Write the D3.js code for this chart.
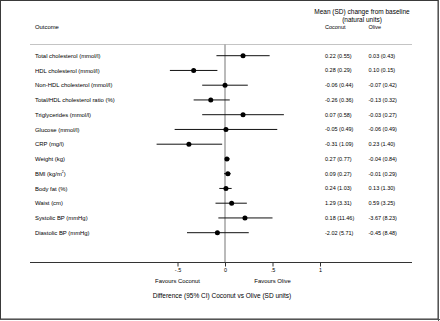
<!DOCTYPE html>
<html>
<head>
<meta charset="utf-8">
<script src="https://cdn.jsdelivr.net/npm/d3@7"></script>
<style>
  html, body { margin: 0; padding: 0; background: #fff; }
  svg { display: block; font-family: "Liberation Sans", Arial, sans-serif; }
</style>
</head>
<body>
<svg id="chart" width="440" height="321"></svg>
<script>
// Outcomes, one row each
const outcomes = [
  "Total cholesterol (mmol/l)",
  "HDL cholesterol (mmol/l)",
  "Non-HDL cholesterol (mmol/l)",
  "Total/HDL cholesterol ratio (%)",
  "Triglycerides (mmol/l)",
  "Glucose (mmol/l)",
  "CRP (mg/l)",
  "Weight (kg)",
  "BMI (kg/m2)",
  "Body fat (%)",
  "Waist (cm)",
  "Systolic BP (mmHg)",
  "Diastolic BP (mmHg)"
];

// Standardised difference, Coconut vs Olive (SD units), with 95% CI
const diff  = [0.19, -0.33, 0.00, -0.15, 0.19, 0.01, -0.38, 0.02, 0.03, 0.01, 0.07, 0.21, -0.08];
const lower = [-0.09, -0.58, -0.24, -0.33, -0.24, -0.53, -0.72, 0.00, -0.01, -0.06, -0.10, -0.07, -0.40];
const upper = [0.47, -0.08, 0.24, 0.05, 0.62, 0.55, -0.03, 0.05, 0.06, 0.07, 0.23, 0.50, 0.25];

// Mean (SD) change from baseline, natural units
const coconutMean = ["0.22", "0.28", "-0.06", "-0.26", "0.07", "-0.05", "-0.31", "0.27", "0.09", "0.24", "1.29", "0.18", "-2.02"];
const coconutSD   = ["0.55", "0.29", "0.44", "0.36", "0.58", "0.49", "1.09", "0.77", "0.27", "1.03", "3.31", "11.46", "5.71"];
const oliveMean   = ["0.03", "0.10", "-0.07", "-0.13", "-0.03", "-0.06", "0.23", "-0.04", "-0.01", "0.13", "0.59", "-3.67", "-0.45"];
const oliveSD     = ["0.43", "0.15", "0.42", "0.32", "0.27", "0.49", "1.40", "0.84", "0.29", "1.30", "3.25", "8.23", "8.48"];

// Axis ticks
const tickValues = [-0.5, 0, 0.5, 1];
const tickLabels = ["-.5", "0", ".5", "1"];

const svg = d3.select("#chart");
const W = 440, H = 321;

const lineLeft = 30, lineRight = 412;
const headerY = 44.5, axisY = 262.5;

const x = d3.scaleLinear().domain([-0.5, 1]).range([177.5, 320]);
const y = d3.scalePoint().domain(outcomes).range([55.7, 232.7]);

const labelX = 35, cocX = 325, oliX = 368.5;
const fs = 5.9, fsVal = 5.5, fsHead = 6.5;

// frame
svg.append("rect").attr("x", 0.5).attr("y", 0.5).attr("width", W - 2.5).attr("height", H - 2.5)
  .attr("fill", "none").attr("stroke", "#3a3a3a").attr("stroke-width", 1);
svg.append("line").attr("x1", W - 1.5).attr("x2", W - 1.5).attr("y1", 0).attr("y2", H)
  .attr("stroke", "#555").attr("stroke-width", 1);
svg.append("line").attr("x1", 0).attr("x2", W).attr("y1", H - 1.5).attr("y2", H - 1.5)
  .attr("stroke", "#555").attr("stroke-width", 1);

// column headers
svg.append("text").attr("x", labelX).attr("y", 27).attr("dy", "0.35em")
  .attr("font-size", fs).text("Outcome");
svg.append("text").attr("x", 362).attr("y", 12).attr("dy", "0.35em").attr("text-anchor", "middle")
  .attr("font-size", fsHead).text("Mean (SD) change from baseline");
svg.append("text").attr("x", 362).attr("y", 20).attr("dy", "0.35em").attr("text-anchor", "middle")
  .attr("font-size", fsHead).text("(natural units)");
svg.append("text").attr("x", cocX).attr("y", 27).attr("dy", "0.35em")
  .attr("font-size", fsVal).text("Coconut");
svg.append("text").attr("x", oliX).attr("y", 27).attr("dy", "0.35em")
  .attr("font-size", fsVal).text("Olive");

// header rule
svg.append("line").attr("x1", lineLeft).attr("x2", lineRight).attr("y1", headerY).attr("y2", headerY)
  .attr("stroke", "#c4c4c4").attr("stroke-width", 1);

// line of no effect
svg.append("line").attr("x1", x(0)).attr("x2", x(0)).attr("y1", headerY).attr("y2", axisY)
  .attr("stroke", "#8c8c8c").attr("stroke-width", 1.2);

// outcome labels
const labels = svg.append("g").selectAll("text").data(outcomes).join("text")
  .attr("x", labelX).attr("y", d => y(d)).attr("dy", "0.35em").attr("font-size", fs);
labels.each(function(d) {
  const t = d3.select(this);
  if (d === "BMI (kg/m2)") {
    t.append("tspan").text("BMI (kg/m");
    t.append("tspan").attr("font-size", fs * 0.6).attr("dy", "-0.9em").text("2");
    t.append("tspan").attr("dy", "0.55em").text(")");
  } else {
    t.text(d);
  }
});

// confidence intervals
const rows = outcomes.map((o, i) => ({ o, d: diff[i], lo: lower[i], hi: upper[i] }));
svg.append("g").selectAll("line").data(rows).join("line")
  .attr("x1", r => x(r.lo)).attr("x2", r => x(r.hi))
  .attr("y1", r => y(r.o)).attr("y2", r => y(r.o))
  .attr("stroke", "#111").attr("stroke-width", 1);

// point estimates
svg.append("g").selectAll("circle").data(rows).join("circle")
  .attr("cx", r => x(r.d)).attr("cy", r => y(r.o)).attr("r", 2.5)
  .attr("fill", "#000");

// natural-unit columns
svg.append("g").selectAll("text").data(outcomes).join("text")
  .attr("x", cocX).attr("y", d => y(d)).attr("dy", "0.35em").attr("font-size", fsVal)
  .text((d, i) => `${coconutMean[i]} (${coconutSD[i]})`);
svg.append("g").selectAll("text").data(outcomes).join("text")
  .attr("x", oliX).attr("y", d => y(d)).attr("dy", "0.35em").attr("font-size", fsVal)
  .text((d, i) => `${oliveMean[i]} (${oliveSD[i]})`);

// x axis
svg.append("line").attr("x1", lineLeft).attr("x2", lineRight).attr("y1", axisY).attr("y2", axisY)
  .attr("stroke", "#333").attr("stroke-width", 1);
const axis = d3.axisBottom(x).tickValues(tickValues)
  .tickFormat((d, i) => tickLabels[i]).tickSize(4).tickSizeOuter(0).tickPadding(2);
const gAxis = svg.append("g").attr("transform", `translate(0,${axisY})`).call(axis);
gAxis.select(".domain").remove();
gAxis.selectAll(".tick line").attr("stroke", "#333");
gAxis.selectAll(".tick text").attr("font-size", fsVal).attr("fill", "#000")
  .attr("font-family", "Liberation Sans, Arial, sans-serif");

svg.append("text").attr("x", x(-0.5)).attr("y", 281.3).attr("dy", "0.35em").attr("text-anchor", "middle")
  .attr("font-size", fs).text("Favours Coconut");
svg.append("text").attr("x", x(0.5)).attr("y", 281.3).attr("dy", "0.35em").attr("text-anchor", "middle")
  .attr("font-size", fs).text("Favours Olive");
svg.append("text").attr("x", 222).attr("y", 295.3).attr("dy", "0.35em").attr("text-anchor", "middle")
  .attr("font-size", fsHead).text("Difference (95% CI) Coconut vs Olive (SD units)");
</script>
</body>
</html>
